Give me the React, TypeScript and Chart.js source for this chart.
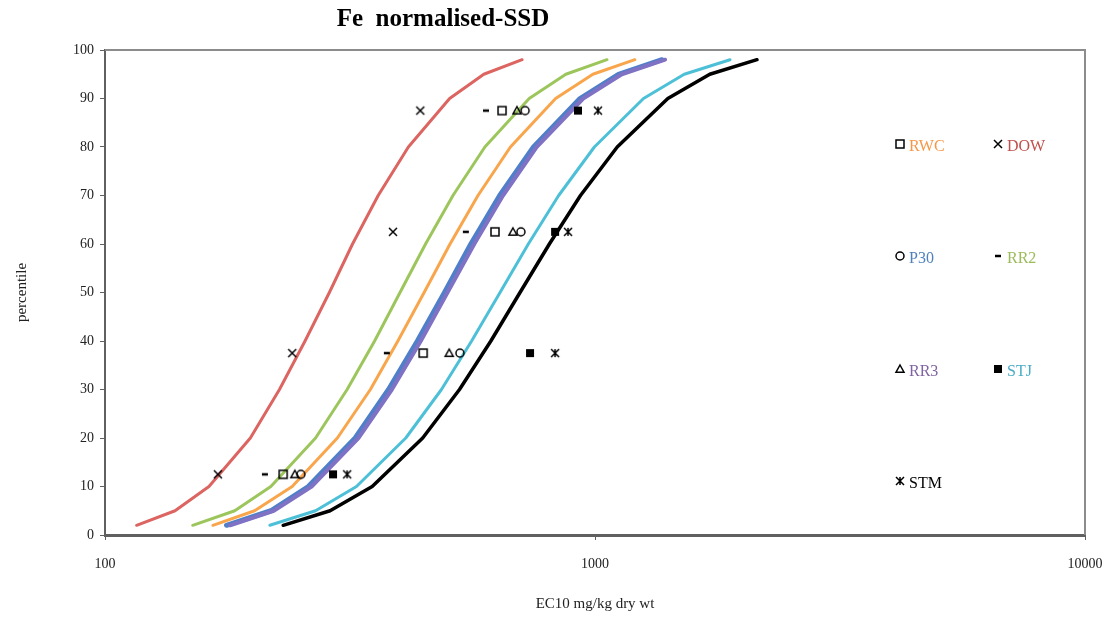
import React, { useEffect, useRef } from "react";
import { Chart, registerables } from "chart.js";

Chart.register(...registerables);

// Percentiles at which the SSD curves are drawn
const curvePercentiles = [2, 5, 10, 20, 30, 40, 50, 60, 70, 80, 90, 95, 98];
// Curve EC10 values (mg/kg dry wt)
const dowCurve = [116, 139, 163, 198, 227, 256, 287, 320, 361, 416, 505, 593, 710];
const rr2Curve = [151, 184, 218, 269, 312, 355, 400, 451, 513, 596, 734, 872, 1058];
const rwcCurve = [166, 202, 241, 298, 348, 396, 448, 506, 577, 672, 831, 990, 1206];
const rr3Curve = [180, 221, 264, 329, 385, 441, 500, 567, 649, 760, 946, 1134, 1390];
const p30Curve = [177, 218, 260, 324, 379, 434, 493, 558, 639, 749, 932, 1117, 1370];
const stjCurve = [217, 269, 326, 411, 486, 560, 640, 731, 843, 997, 1256, 1521, 1886];
const stmCurve = [231, 288, 351, 445, 529, 613, 703, 807, 934, 1110, 1408, 1715, 2141];

// Observed data points
const pointPercentiles = [12.5, 37.5, 62.5, 87.5];
const rwcPoints = [231, 446, 625, 646];
const dowPoints = [170, 241, 387, 440];
const p30Points = [251, 530, 706, 720];
const rr2Points = [212, 376, 545, 599];
const rr3Points = [244, 504, 680, 693];
const stjPoints = [292, 737, 829, 923];
const stmPoints = [312, 829, 881, 1014];

const xTickValues = [100, 1000, 10000];
const titleText = "Fe  normalised-SSD";
const xTitle = "EC10 mg/kg dry wt";
const yTitle = "percentile";

const SERIF = "'Liberation Serif', 'Times New Roman', serif";

const toXY = (xs: number[], ys: number[]) => xs.map((x, i) => ({ x, y: ys[i] }));

type LegendItem = { name: string; marker: string; color: string; col: number; row: number };
const legendItems: LegendItem[] = [
  { name: "RWC", marker: "square", color: "#f79646", col: 0, row: 0 },
  { name: "DOW", marker: "cross", color: "#c0504d", col: 1, row: 0 },
  { name: "P30", marker: "circle", color: "#4f81bd", col: 0, row: 1 },
  { name: "RR2", marker: "dash", color: "#9bbb59", col: 1, row: 1 },
  { name: "RR3", marker: "triangle", color: "#8064a2", col: 0, row: 2 },
  { name: "STJ", marker: "filled", color: "#4bacc6", col: 1, row: 2 },
  { name: "STM", marker: "star", color: "#000000", col: 0, row: 3 },
];

function drawMarker(ctx: CanvasRenderingContext2D, kind: string, x: number, y: number) {
  ctx.save();
  ctx.strokeStyle = "#000";
  ctx.fillStyle = "#000";
  ctx.lineWidth = 1.5;
  const r = 4;
  ctx.beginPath();
  if (kind === "square") {
    ctx.strokeRect(x - r, y - r, 2 * r, 2 * r);
  } else if (kind === "filled") {
    ctx.fillRect(x - r, y - r, 2 * r, 2 * r);
  } else if (kind === "circle") {
    ctx.arc(x, y, r, 0, Math.PI * 2);
    ctx.stroke();
  } else if (kind === "triangle") {
    ctx.moveTo(x, y - r);
    ctx.lineTo(x + r, y + r * 0.8);
    ctx.lineTo(x - r, y + r * 0.8);
    ctx.closePath();
    ctx.stroke();
  } else if (kind === "dash") {
    ctx.lineWidth = 2.5;
    ctx.moveTo(x - 3, y);
    ctx.lineTo(x + 3, y);
    ctx.stroke();
  } else if (kind === "cross") {
    ctx.moveTo(x - r, y - r);
    ctx.lineTo(x + r, y + r);
    ctx.moveTo(x + r, y - r);
    ctx.lineTo(x - r, y + r);
    ctx.stroke();
  } else if (kind === "star") {
    ctx.moveTo(x - r, y - r);
    ctx.lineTo(x + r, y + r);
    ctx.moveTo(x + r, y - r);
    ctx.lineTo(x - r, y + r);
    ctx.moveTo(x, y - r);
    ctx.lineTo(x, y + r);
    ctx.stroke();
  }
  ctx.restore();
}

function makeMarkerCanvas(kind: string): HTMLCanvasElement {
  const c = document.createElement("canvas");
  c.width = 12;
  c.height = 12;
  const ctx = c.getContext("2d")!;
  drawMarker(ctx, kind, 6, 6);
  return c;
}

const framePlugin = {
  id: "frame",
  beforeDatasetsDraw(chart: any) {
    const { ctx, chartArea } = chart;
    ctx.save();
    ctx.strokeStyle = "#8c8c8c";
    ctx.lineWidth = 2;
    ctx.beginPath();
    ctx.moveTo(chartArea.left, chartArea.top);
    ctx.lineTo(chartArea.right, chartArea.top);
    ctx.lineTo(chartArea.right, chartArea.bottom);
    ctx.stroke();
    ctx.restore();
  },
  afterDraw(chart: any) {
    const { ctx } = chart;
    ctx.save();
    ctx.fillStyle = "#000";
    ctx.font = `bold 25px ${SERIF}`;
    ctx.textAlign = "center";
    ctx.textBaseline = "middle";
    ctx.fillText(titleText, 443, 20);
    // legend
    ctx.font = `16px ${SERIF}`;
    ctx.textAlign = "left";
    const colX = [900, 998];
    const rowY = [146, 258, 371, 483];
    legendItems.forEach((it) => {
      const x = colX[it.col];
      const y = rowY[it.row];
      drawMarker(ctx, it.marker, x, y - 2);
      ctx.fillStyle = it.color;
      ctx.fillText(it.name, x + 9, y + 1);
    });
    ctx.restore();
  },
};

export default function App() {
  const ref = useRef<HTMLCanvasElement | null>(null);
  useEffect(() => {
    if (!ref.current) return;
    const lineDs = (label: string, xs: number[], color: string, width: number) => ({
      label,
      data: toXY(xs, curvePercentiles),
      showLine: true,
      borderColor: color,
      backgroundColor: color,
      borderWidth: width,
      pointRadius: 0,
      tension: 0,
      borderCapStyle: "round",
      borderJoinStyle: "round",
    });
    const ptDs = (label: string, xs: number[], kind: string) => ({
      label,
      data: toXY(xs, pointPercentiles),
      showLine: false,
      pointStyle: makeMarkerCanvas(kind),
      pointRadius: 6,
      borderColor: "#000",
      backgroundColor: "#000",
    });
    const chart = new Chart(ref.current, {
      type: "scatter",
      data: {
        datasets: [
          ptDs("RWC", rwcPoints, "square"),
          ptDs("DOW", dowPoints, "cross"),
          ptDs("P30", p30Points, "circle"),
          ptDs("RR2", rr2Points, "dash"),
          ptDs("RR3", rr3Points, "triangle"),
          ptDs("STJ", stjPoints, "filled"),
          ptDs("STM", stmPoints, "star"),
          lineDs("DOW curve", dowCurve, "#dc6461", 3),
          lineDs("RR2 curve", rr2Curve, "#9cc65c", 3),
          lineDs("RWC curve", rwcCurve, "#f9a54c", 3),
          lineDs("RR3 curve", rr3Curve, "#7f72c4", 4),
          lineDs("P30 curve", p30Curve, "#4f7fc8", 5),
          lineDs("STJ curve", stjCurve, "#4dc0d8", 3),
          lineDs("STM curve", stmCurve, "#000000", 3.5),
        ] as any,
      },
      options: {
        responsive: false,
        animation: false,
        devicePixelRatio: 1,
        layout: { padding: { top: 50, right: 35, left: 0, bottom: 0 } },
        plugins: {
          legend: { display: false },
          title: { display: false },
          tooltip: { enabled: false },
        },
        scales: {
          x: {
            type: "logarithmic",
            min: 100,
            max: 10000,
            afterBuildTicks: (s: any) => {
              s.ticks = xTickValues.map((v) => ({ value: v }));
            },
            afterFit: (s: any) => {
              s.height = 84;
            },
            grid: { drawOnChartArea: false, drawTicks: true, tickLength: 5, color: "#606060" },
            border: { color: "#606060", width: 3 },
            ticks: {
              autoSkip: false,
              maxRotation: 0,
              padding: 16,
              color: "#222",
              font: { family: SERIF, size: 14 },
              callback: (v: any) => String(v),
            },
            title: {
              display: true,
              text: xTitle,
              color: "#222",
              font: { family: SERIF, size: 15 },
              padding: { top: 0, bottom: 6 },
            },
          },
          y: {
            min: 0,
            max: 100,
            afterFit: (s: any) => {
              s.width = 105;
            },
            grid: { drawOnChartArea: false, drawTicks: true, tickLength: 5, color: "#606060" },
            border: { color: "#606060", width: 2 },
            ticks: {
              stepSize: 10,
              padding: 6,
              color: "#222",
              font: { family: SERIF, size: 14 },
            },
            title: {
              display: true,
              text: yTitle,
              color: "#222",
              font: { family: SERIF, size: 15 },
              padding: { top: 13, bottom: 0 },
            },
          },
        },
      },
      plugins: [framePlugin],
    });
    return () => chart.destroy();
  }, []);
  return (
    <div style={{ position: "absolute", left: 0, top: 0, width: 1120, height: 619, background: "#fff" }}>
      <canvas ref={ref} width={1120} height={619} />
    </div>
  );
}
